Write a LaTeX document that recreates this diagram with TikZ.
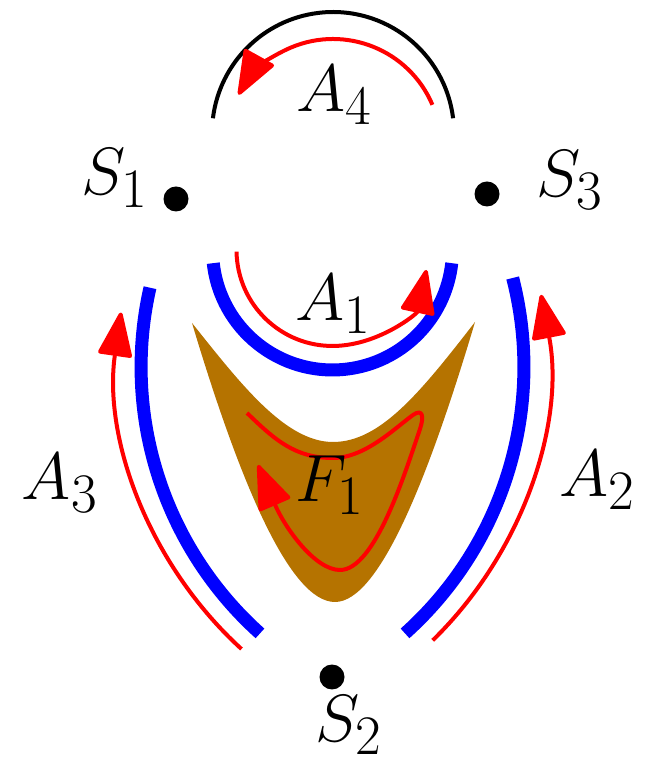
\documentclass[tikz,border=0pt]{standalone}
\usepackage{graphicx}
\usetikzlibrary{arrows.meta}
\definecolor{fbrown}{RGB}{181,115,0}
\newcommand{\biglbl}[1]{\scalebox{1.53}{\Huge $#1$}}
\begin{document}
\begin{tikzpicture}[x=0.02cm,y=0.02cm,
  lbl/.style={inner sep=0pt},
  pt/.style={circle, fill=black, inner sep=0pt, minimum size=0.5cm},
  wall/.style={blue, line width=0.26cm},
  flow/.style={red, line width=0.08cm},
  tipped/.style={-{Triangle[length=0.95cm,width=0.7cm,round]}},
]
\useasboundingbox (0,0) rectangle (646,763);

% brown region F1
\fill[fbrown] (192,440) .. controls (240,280) and (290,161) .. (335,161)
  .. controls (380,161) and (430,290) .. (475,441)
  .. controls (420,370) and (380,321) .. (333,321)
  .. controls (285,321) and (240,380) .. cycle;

% black arc (A4)
\draw[line width=0.08cm] ([shift={(7:2.42cm)}]333,630) arc[start angle=7,end angle=173,radius=2.42cm];
% red A4
\draw[flow,tipped] ([shift={(23:2.16cm)}]333,616) arc[start angle=23,end angle=151,radius=2.16cm];

% A1
\draw[wall] ([shift={(186.3:2.4cm)}]332.5,513) arc[start angle=186.3,end angle=353.7,radius=2.4cm];
\draw[flow,tipped] ([shift={(181:1.92cm)}]332.5,513) arc[start angle=181,end angle=348,radius=1.92cm];

% A3 (left)
\draw[wall] ([shift={(167.2:7.16cm)}]499,396) arc[start angle=167.2,end angle=228.1,radius=7.16cm];
\draw[flow,tipped] ([shift={(227.6:7.64cm)}]499,396) arc[start angle=227.6,end angle=171.8,radius=7.64cm];

% A2 (right)
\draw[wall] ([shift={(-48.1:7.16cm)}]166,396) arc[start angle=-48.1,end angle=14.4,radius=7.16cm];
\draw[flow,tipped] ([shift={(-45.7:7.64cm)}]166,396) arc[start angle=-45.7,end angle=10.9,radius=7.64cm];

% F1 loop
\draw[flow,tipped,line join=round] (247,350) .. controls (275,323) and (295,305) .. (333,305)
  .. controls (365,305) and (395,335) .. (413,348)
  .. controls (423,355) and (424,346) .. (420,334)
  .. controls (405,290) and (375,193) .. (340,193)
  .. controls (315,193) and (285,235) .. (258,298);

% points
\node[pt] (s1) at (176,564) {};
\node[pt] (s3) at (487,569) {};
\node[pt] (s2) at (332,86) {};

% labels
\node[lbl] (ls1) at (115,585) {\biglbl{S_1}};
\node[lbl] (ls3) at (570,583) {\biglbl{S_3}};
\node[lbl] (ls2) at (349,38) {\biglbl{S_2}};
\node[lbl] (la4) at (334,668) {\biglbl{A_4}};
\node[lbl] (la1) at (333,459) {\biglbl{A_1}};
\node[lbl] (la3) at (60,280) {\biglbl{A_3}};
\node[lbl] (la2) at (597,283) {\biglbl{A_2}};
\node[lbl] (lf1) at (330,278) {\biglbl{F_1}};
\end{tikzpicture}
\end{document}
